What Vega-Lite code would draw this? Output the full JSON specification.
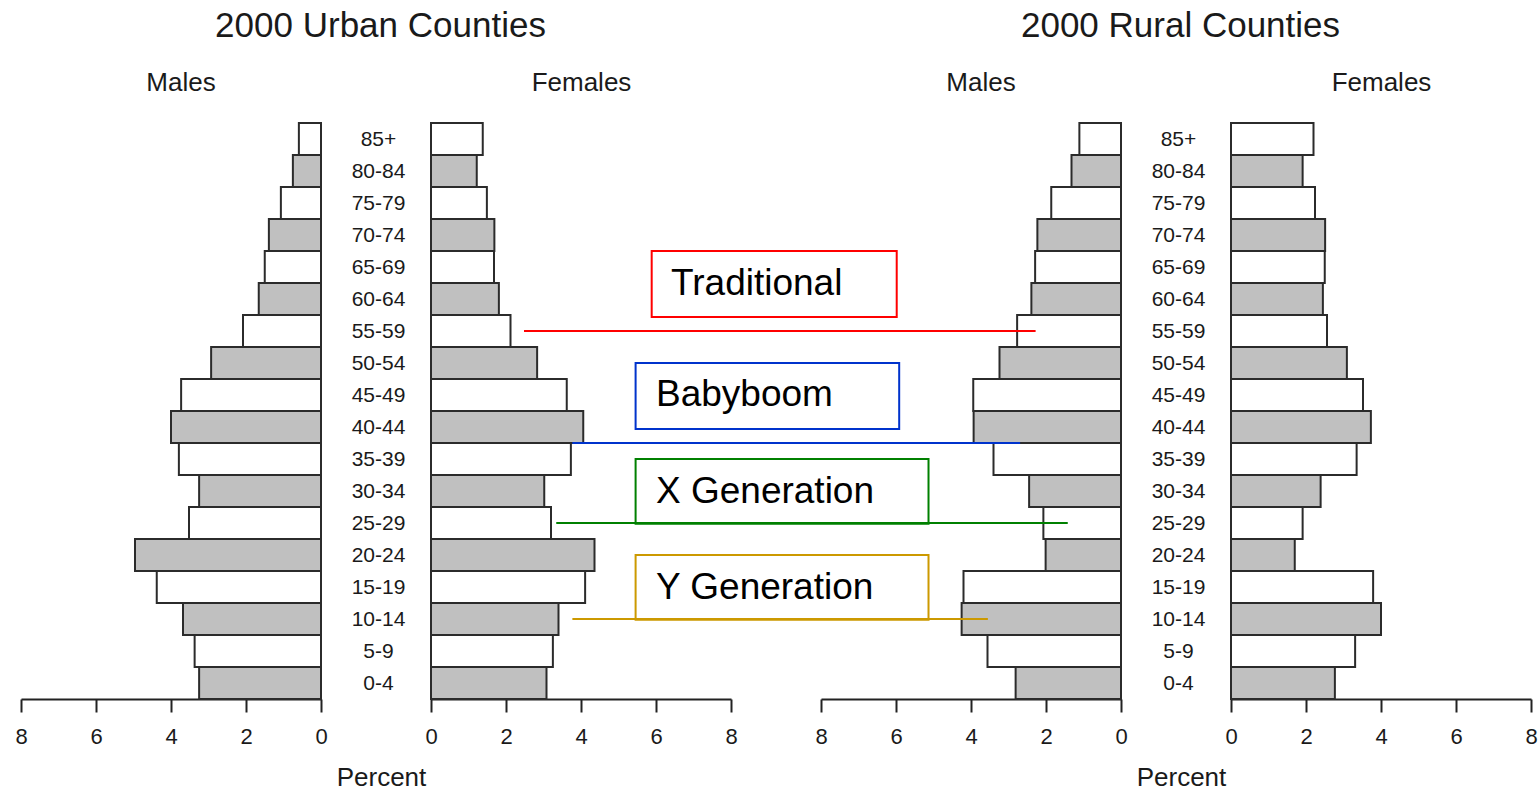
{
  "$schema": "https://vega.github.io/schema/vega-lite/v6.json",
  "padding": {"left": 14, "top": 8, "right": 5, "bottom": 5},
  "background": "white",
  "config": {
    "view": {"stroke": null},
    "font": "Liberation Sans",
    "axis": {"grid": false, "labelFont": "Liberation Sans", "titleFont": "Liberation Sans", "labelColor": "#1a1a1a", "titleColor": "#1a1a1a"},
    "title": {"frame": "group", "fontSize": 26, "fontWeight": "normal", "font": "Liberation Sans", "color": "#1a1a1a", "offset": 26, "dx": 10}
  },
  "datasets": {
    "pop": [
      {"area": "Urban", "sex": "Males", "age": "85+", "lo": 85, "hi": 90, "pct": 0.59},
      {"area": "Urban", "sex": "Males", "age": "80-84", "lo": 80, "hi": 85, "pct": 0.75},
      {"area": "Urban", "sex": "Males", "age": "75-79", "lo": 75, "hi": 80, "pct": 1.07},
      {"area": "Urban", "sex": "Males", "age": "70-74", "lo": 70, "hi": 75, "pct": 1.39},
      {"area": "Urban", "sex": "Males", "age": "65-69", "lo": 65, "hi": 70, "pct": 1.50},
      {"area": "Urban", "sex": "Males", "age": "60-64", "lo": 60, "hi": 65, "pct": 1.66},
      {"area": "Urban", "sex": "Males", "age": "55-59", "lo": 55, "hi": 60, "pct": 2.08},
      {"area": "Urban", "sex": "Males", "age": "50-54", "lo": 50, "hi": 55, "pct": 2.93},
      {"area": "Urban", "sex": "Males", "age": "45-49", "lo": 45, "hi": 50, "pct": 3.73},
      {"area": "Urban", "sex": "Males", "age": "40-44", "lo": 40, "hi": 45, "pct": 4.00},
      {"area": "Urban", "sex": "Males", "age": "35-39", "lo": 35, "hi": 40, "pct": 3.79},
      {"area": "Urban", "sex": "Males", "age": "30-34", "lo": 30, "hi": 35, "pct": 3.25},
      {"area": "Urban", "sex": "Males", "age": "25-29", "lo": 25, "hi": 30, "pct": 3.52},
      {"area": "Urban", "sex": "Males", "age": "20-24", "lo": 20, "hi": 25, "pct": 4.96},
      {"area": "Urban", "sex": "Males", "age": "15-19", "lo": 15, "hi": 20, "pct": 4.38},
      {"area": "Urban", "sex": "Males", "age": "10-14", "lo": 10, "hi": 15, "pct": 3.68},
      {"area": "Urban", "sex": "Males", "age": "5-9", "lo": 5, "hi": 10, "pct": 3.37},
      {"area": "Urban", "sex": "Males", "age": "0-4", "lo": 0, "hi": 5, "pct": 3.25},
      {"area": "Urban", "sex": "Females", "age": "85+", "lo": 85, "hi": 90, "pct": 1.38},
      {"area": "Urban", "sex": "Females", "age": "80-84", "lo": 80, "hi": 85, "pct": 1.22},
      {"area": "Urban", "sex": "Females", "age": "75-79", "lo": 75, "hi": 80, "pct": 1.49},
      {"area": "Urban", "sex": "Females", "age": "70-74", "lo": 70, "hi": 75, "pct": 1.69},
      {"area": "Urban", "sex": "Females", "age": "65-69", "lo": 65, "hi": 70, "pct": 1.68},
      {"area": "Urban", "sex": "Females", "age": "60-64", "lo": 60, "hi": 65, "pct": 1.81},
      {"area": "Urban", "sex": "Females", "age": "55-59", "lo": 55, "hi": 60, "pct": 2.12},
      {"area": "Urban", "sex": "Females", "age": "50-54", "lo": 50, "hi": 55, "pct": 2.83},
      {"area": "Urban", "sex": "Females", "age": "45-49", "lo": 45, "hi": 50, "pct": 3.62},
      {"area": "Urban", "sex": "Females", "age": "40-44", "lo": 40, "hi": 45, "pct": 4.06},
      {"area": "Urban", "sex": "Females", "age": "35-39", "lo": 35, "hi": 40, "pct": 3.73},
      {"area": "Urban", "sex": "Females", "age": "30-34", "lo": 30, "hi": 35, "pct": 3.02},
      {"area": "Urban", "sex": "Females", "age": "25-29", "lo": 25, "hi": 30, "pct": 3.20},
      {"area": "Urban", "sex": "Females", "age": "20-24", "lo": 20, "hi": 25, "pct": 4.36},
      {"area": "Urban", "sex": "Females", "age": "15-19", "lo": 15, "hi": 20, "pct": 4.11},
      {"area": "Urban", "sex": "Females", "age": "10-14", "lo": 10, "hi": 15, "pct": 3.40},
      {"area": "Urban", "sex": "Females", "age": "5-9", "lo": 5, "hi": 10, "pct": 3.25},
      {"area": "Urban", "sex": "Females", "age": "0-4", "lo": 0, "hi": 5, "pct": 3.08},
      {"area": "Rural", "sex": "Males", "age": "85+", "lo": 85, "hi": 90, "pct": 1.11},
      {"area": "Rural", "sex": "Males", "age": "80-84", "lo": 80, "hi": 85, "pct": 1.32},
      {"area": "Rural", "sex": "Males", "age": "75-79", "lo": 75, "hi": 80, "pct": 1.86},
      {"area": "Rural", "sex": "Males", "age": "70-74", "lo": 70, "hi": 75, "pct": 2.23},
      {"area": "Rural", "sex": "Males", "age": "65-69", "lo": 65, "hi": 70, "pct": 2.29},
      {"area": "Rural", "sex": "Males", "age": "60-64", "lo": 60, "hi": 65, "pct": 2.39},
      {"area": "Rural", "sex": "Males", "age": "55-59", "lo": 55, "hi": 60, "pct": 2.77},
      {"area": "Rural", "sex": "Males", "age": "50-54", "lo": 50, "hi": 55, "pct": 3.24},
      {"area": "Rural", "sex": "Males", "age": "45-49", "lo": 45, "hi": 50, "pct": 3.94},
      {"area": "Rural", "sex": "Males", "age": "40-44", "lo": 40, "hi": 45, "pct": 3.93},
      {"area": "Rural", "sex": "Males", "age": "35-39", "lo": 35, "hi": 40, "pct": 3.40},
      {"area": "Rural", "sex": "Males", "age": "30-34", "lo": 30, "hi": 35, "pct": 2.45},
      {"area": "Rural", "sex": "Males", "age": "25-29", "lo": 25, "hi": 30, "pct": 2.07},
      {"area": "Rural", "sex": "Males", "age": "20-24", "lo": 20, "hi": 25, "pct": 2.01},
      {"area": "Rural", "sex": "Males", "age": "15-19", "lo": 15, "hi": 20, "pct": 4.20},
      {"area": "Rural", "sex": "Males", "age": "10-14", "lo": 10, "hi": 15, "pct": 4.25},
      {"area": "Rural", "sex": "Males", "age": "5-9", "lo": 5, "hi": 10, "pct": 3.56},
      {"area": "Rural", "sex": "Males", "age": "0-4", "lo": 0, "hi": 5, "pct": 2.81},
      {"area": "Rural", "sex": "Females", "age": "85+", "lo": 85, "hi": 90, "pct": 2.20},
      {"area": "Rural", "sex": "Females", "age": "80-84", "lo": 80, "hi": 85, "pct": 1.91},
      {"area": "Rural", "sex": "Females", "age": "75-79", "lo": 75, "hi": 80, "pct": 2.24},
      {"area": "Rural", "sex": "Females", "age": "70-74", "lo": 70, "hi": 75, "pct": 2.51},
      {"area": "Rural", "sex": "Females", "age": "65-69", "lo": 65, "hi": 70, "pct": 2.50},
      {"area": "Rural", "sex": "Females", "age": "60-64", "lo": 60, "hi": 65, "pct": 2.45},
      {"area": "Rural", "sex": "Females", "age": "55-59", "lo": 55, "hi": 60, "pct": 2.56},
      {"area": "Rural", "sex": "Females", "age": "50-54", "lo": 50, "hi": 55, "pct": 3.09},
      {"area": "Rural", "sex": "Females", "age": "45-49", "lo": 45, "hi": 50, "pct": 3.52},
      {"area": "Rural", "sex": "Females", "age": "40-44", "lo": 40, "hi": 45, "pct": 3.73},
      {"area": "Rural", "sex": "Females", "age": "35-39", "lo": 35, "hi": 40, "pct": 3.35},
      {"area": "Rural", "sex": "Females", "age": "30-34", "lo": 30, "hi": 35, "pct": 2.39},
      {"area": "Rural", "sex": "Females", "age": "25-29", "lo": 25, "hi": 30, "pct": 1.91},
      {"area": "Rural", "sex": "Females", "age": "20-24", "lo": 20, "hi": 25, "pct": 1.70},
      {"area": "Rural", "sex": "Females", "age": "15-19", "lo": 15, "hi": 20, "pct": 3.79},
      {"area": "Rural", "sex": "Females", "age": "10-14", "lo": 10, "hi": 15, "pct": 4.00},
      {"area": "Rural", "sex": "Females", "age": "5-9", "lo": 5, "hi": 10, "pct": 3.31},
      {"area": "Rural", "sex": "Females", "age": "0-4", "lo": 0, "hi": 5, "pct": 2.77}
    ],
    "ann": [
      {"label": "Traditional", "bx1": 12.515, "bx2": 5.981, "by1": 59.7, "by2": 70.0, "tx": 12.0, "ty": 64.9, "lx1": 15.92, "lx2": 2.277, "ly": 57.5},
      {"label": "Babyboom", "bx1": 12.944, "bx2": 5.915, "by1": 42.2, "by2": 52.5, "tx": 12.4, "ty": 47.5, "lx1": 14.63, "lx2": 2.69, "ly": 40.0},
      {"label": "X Generation", "bx1": 12.944, "bx2": 5.133, "by1": 27.4, "by2": 37.5, "tx": 12.4, "ty": 32.4, "lx1": 15.06, "lx2": 1.42, "ly": 27.5},
      {"label": "Y Generation", "bx1": 12.944, "bx2": 5.133, "by1": 12.4, "by2": 22.5, "tx": 12.4, "ty": 17.4, "lx1": 14.63, "lx2": 3.55, "ly": 12.5}
    ]
  },
  "spacing": 90,
  "bounds": "flush",
  "hconcat": [
    {
      "width": 300, "height": 576,
      "title": {"text": "Males"},
      "data": {"name": "pop"},
      "transform": [{"filter": "datum.area === 'Urban' && datum.sex === 'Males'"}],
      "mark": {"type": "rect", "stroke": "#2b2b2b", "strokeWidth": 2},
      "encoding": {
        "x": {"field": "pct", "type": "quantitative", "scale": {"domain": [0, 8], "reverse": true, "nice": false},
              "axis": {"values": [0, 2, 4, 6, 8], "domainColor": "#222", "domainWidth": 2, "tickColor": "#222", "tickWidth": 2, "tickSize": 13, "labelPadding": 14, "labelFontSize": 22, "labelFlush": false,
                       "title": "Percent", "titleFontSize": 26, "titleFontWeight": "normal", "titleX": 360, "titleY": 78, "titleAlign": "center", "titleBaseline": "middle"}},
        "x2": {"datum": 0},
        "y": {"field": "lo", "type": "quantitative", "scale": {"domain": [0, 90], "nice": false}, "axis": null},
        "y2": {"field": "hi"},
        "color": {"field": "age", "type": "nominal", "legend": null,
                  "scale": {"domain": ["0-4","5-9","10-14","15-19","20-24","25-29","30-34","35-39","40-44","45-49","50-54","55-59","60-64","65-69","70-74","75-79","80-84","85+"],
                            "range": ["#c0c0c0","#ffffff","#c0c0c0","#ffffff","#c0c0c0","#ffffff","#c0c0c0","#ffffff","#c0c0c0","#ffffff","#c0c0c0","#ffffff","#c0c0c0","#ffffff","#c0c0c0","#ffffff","#c0c0c0","#ffffff"]}}
      }
    },
    {
      "width": 320, "height": 576,
      "data": {"name": "pop"},
      "transform": [{"filter": "datum.area === 'Urban' && datum.sex === 'Females'"}],
      "mark": {"type": "rect", "stroke": "#2b2b2b", "strokeWidth": 2},
      "encoding": {
        "x": {"field": "pct", "type": "quantitative", "scale": {"domain": [0, 8], "range": [20, 320], "nice": false},
              "axis": {"values": [0, 2, 4, 6, 8], "domainColor": "#222", "domainWidth": 2, "tickColor": "#222", "tickWidth": 2, "tickSize": 13, "labelPadding": 14, "labelFontSize": 22, "labelFlush": false,
                       "title": "Females", "titleFontSize": 26, "titleFontWeight": "normal", "titleX": 170, "titleY": -617, "titleAlign": "center", "titleBaseline": "middle"}},
        "x2": {"datum": 0},
        "y": {"field": "lo", "type": "quantitative", "scale": {"domain": [0, 90], "nice": false},
              "axis": {"orient": "left", "values": [2.5, 7.5, 12.5, 17.5, 22.5, 27.5, 32.5, 37.5, 42.5, 47.5, 52.5, 57.5, 62.5, 67.5, 72.5, 77.5, 82.5, 87.5],
                       "labelExpr": "datum.value > 85 ? '85+' : (datum.value - 2.5) + '-' + (datum.value + 1.5)",
                       "domain": false, "ticks": false, "tickSize": 0, "labelPadding": 33, "labelAlign": "center", "labelBaseline": "middle", "labelFontSize": 21, "labelOverlap": false, "labelFlush": false,
                       "title": "2000 Urban Counties", "titleAngle": 0, "titleX": -31, "titleY": -98, "titleAlign": "center", "titleBaseline": "middle", "titleFontSize": 35, "titleFontWeight": "normal"}},
        "y2": {"field": "hi"},
        "color": {"field": "age", "type": "nominal", "legend": null,
                  "scale": {"domain": ["0-4","5-9","10-14","15-19","20-24","25-29","30-34","35-39","40-44","45-49","50-54","55-59","60-64","65-69","70-74","75-79","80-84","85+"],
                            "range": ["#c0c0c0","#ffffff","#c0c0c0","#ffffff","#c0c0c0","#ffffff","#c0c0c0","#ffffff","#c0c0c0","#ffffff","#c0c0c0","#ffffff","#c0c0c0","#ffffff","#c0c0c0","#ffffff","#c0c0c0","#ffffff"]}}
      }
    },
    {
      "width": 300, "height": 576,
      "title": {"text": "Males"},
      "layer": [
        {
          "data": {"name": "pop"},
          "transform": [{"filter": "datum.area === 'Rural' && datum.sex === 'Males'"}],
          "mark": {"type": "rect", "stroke": "#2b2b2b", "strokeWidth": 2},
          "encoding": {
            "x": {"field": "pct", "type": "quantitative", "scale": {"domain": [0, 8], "reverse": true, "nice": false},
                  "axis": {"values": [0, 2, 4, 6, 8], "domainColor": "#222", "domainWidth": 2, "tickColor": "#222", "tickWidth": 2, "tickSize": 13, "labelPadding": 14, "labelFontSize": 22, "labelFlush": false,
                           "title": "Percent", "titleFontSize": 26, "titleFontWeight": "normal", "titleX": 360, "titleY": 78, "titleAlign": "center", "titleBaseline": "middle"}},
            "x2": {"datum": 0},
            "y": {"field": "lo", "type": "quantitative", "scale": {"domain": [0, 90], "nice": false}, "axis": null},
            "y2": {"field": "hi"},
            "color": {"field": "age", "type": "nominal", "legend": null,
                      "scale": {"domain": ["0-4","5-9","10-14","15-19","20-24","25-29","30-34","35-39","40-44","45-49","50-54","55-59","60-64","65-69","70-74","75-79","80-84","85+"],
                                "range": ["#c0c0c0","#ffffff","#c0c0c0","#ffffff","#c0c0c0","#ffffff","#c0c0c0","#ffffff","#c0c0c0","#ffffff","#c0c0c0","#ffffff","#c0c0c0","#ffffff","#c0c0c0","#ffffff","#c0c0c0","#ffffff"]}}
          }
        },
        {
          "data": {"name": "ann"},
          "mark": {"type": "rect", "fill": null, "fillOpacity": 0, "strokeWidth": 2},
          "encoding": {
            "x": {"field": "bx1", "type": "quantitative"},
            "x2": {"field": "bx2"},
            "y": {"field": "by1", "type": "quantitative"},
            "y2": {"field": "by2"},
            "stroke": {"field": "label", "type": "nominal", "legend": null,
                       "scale": {"domain": ["Traditional", "Babyboom", "X Generation", "Y Generation"], "range": ["#ff0000", "#0033cc", "#008000", "#cc9900"]}}
          }
        },
        {
          "data": {"name": "ann"},
          "mark": {"type": "rule", "strokeWidth": 2},
          "encoding": {
            "x": {"field": "lx1", "type": "quantitative"},
            "x2": {"field": "lx2"},
            "y": {"field": "ly", "type": "quantitative"},
            "stroke": {"field": "label", "type": "nominal", "legend": null}
          }
        },
        {
          "data": {"name": "ann"},
          "mark": {"type": "text", "align": "left", "baseline": "middle", "fontSize": 37, "font": "Liberation Sans", "color": "#000000"},
          "encoding": {
            "x": {"field": "tx", "type": "quantitative"},
            "y": {"field": "ty", "type": "quantitative"},
            "text": {"field": "label"}
          }
        }
      ]
    },
    {
      "width": 320, "height": 576,
      "data": {"name": "pop"},
      "transform": [{"filter": "datum.area === 'Rural' && datum.sex === 'Females'"}],
      "mark": {"type": "rect", "stroke": "#2b2b2b", "strokeWidth": 2},
      "encoding": {
        "x": {"field": "pct", "type": "quantitative", "scale": {"domain": [0, 8], "range": [20, 320], "nice": false},
              "axis": {"values": [0, 2, 4, 6, 8], "domainColor": "#222", "domainWidth": 2, "tickColor": "#222", "tickWidth": 2, "tickSize": 13, "labelPadding": 14, "labelFontSize": 22, "labelFlush": false,
                       "title": "Females", "titleFontSize": 26, "titleFontWeight": "normal", "titleX": 170, "titleY": -617, "titleAlign": "center", "titleBaseline": "middle"}},
        "x2": {"datum": 0},
        "y": {"field": "lo", "type": "quantitative", "scale": {"domain": [0, 90], "nice": false},
              "axis": {"orient": "left", "values": [2.5, 7.5, 12.5, 17.5, 22.5, 27.5, 32.5, 37.5, 42.5, 47.5, 52.5, 57.5, 62.5, 67.5, 72.5, 77.5, 82.5, 87.5],
                       "labelExpr": "datum.value > 85 ? '85+' : (datum.value - 2.5) + '-' + (datum.value + 1.5)",
                       "domain": false, "ticks": false, "tickSize": 0, "labelPadding": 33, "labelAlign": "center", "labelBaseline": "middle", "labelFontSize": 21, "labelOverlap": false, "labelFlush": false,
                       "title": "2000 Rural Counties", "titleAngle": 0, "titleX": -31, "titleY": -98, "titleAlign": "center", "titleBaseline": "middle", "titleFontSize": 35, "titleFontWeight": "normal"}},
        "y2": {"field": "hi"},
        "color": {"field": "age", "type": "nominal", "legend": null,
                  "scale": {"domain": ["0-4","5-9","10-14","15-19","20-24","25-29","30-34","35-39","40-44","45-49","50-54","55-59","60-64","65-69","70-74","75-79","80-84","85+"],
                            "range": ["#c0c0c0","#ffffff","#c0c0c0","#ffffff","#c0c0c0","#ffffff","#c0c0c0","#ffffff","#c0c0c0","#ffffff","#c0c0c0","#ffffff","#c0c0c0","#ffffff","#c0c0c0","#ffffff","#c0c0c0","#ffffff"]}}
      }
    }
  ]
}
